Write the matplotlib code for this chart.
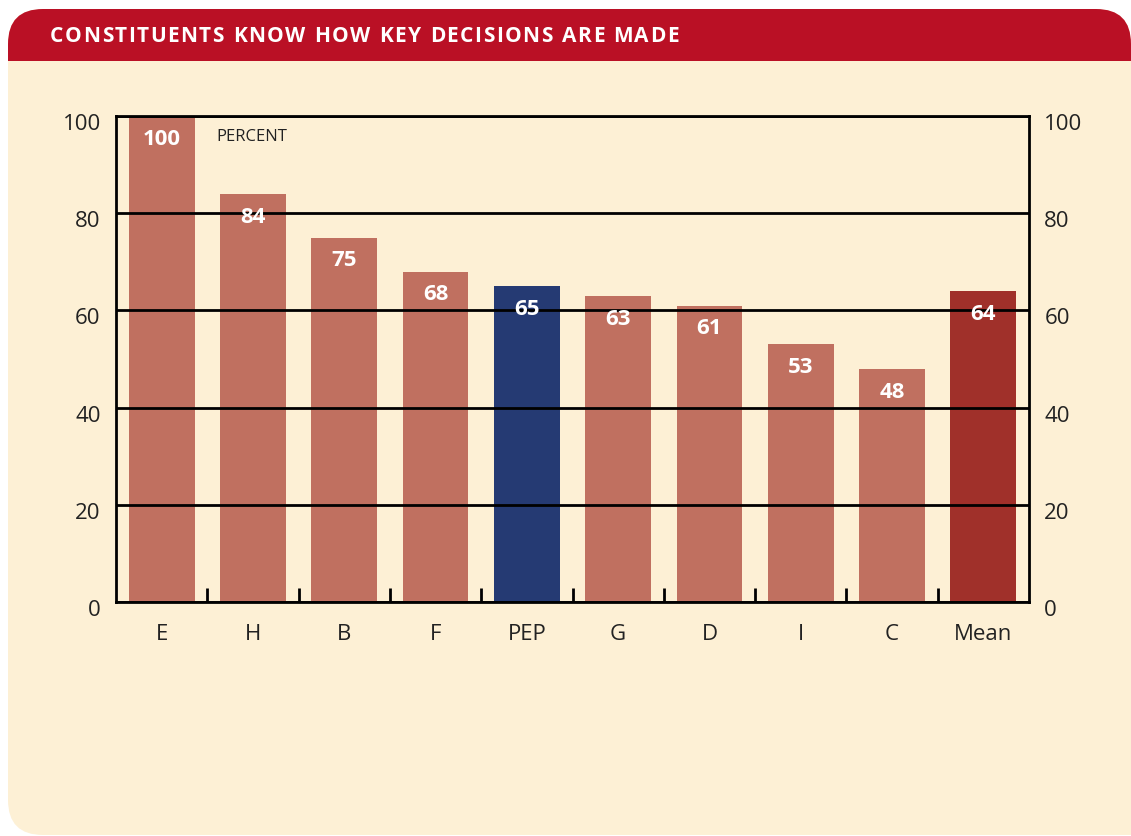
import matplotlib.pyplot as plt
from matplotlib.patches import FancyBboxPatch, Rectangle
import matplotlib.transforms as mtransforms
import numpy as np

categories = ['E', 'H', 'B', 'F', 'PEP', 'G', 'D', 'I', 'C', 'Mean']
values = [100, 84, 75, 68, 65, 63, 61, 53, 48, 64]
title = 'CONSTITUENTS KNOW HOW KEY DECISIONS ARE MADE'

plt.rcParams['font.family'] = ['Open Sans', 'DejaVu Sans']

cream = '#FDF0D5'
red = '#BA1025'
bar_col = '#C07060'
pep_col = '#253A73'
mean_col = '#A0302A'
colors = [pep_col if c == 'PEP' else mean_col if c == 'Mean' else bar_col for c in categories]

fig = plt.figure(figsize=(11.31, 8.36), dpi=100)
fig.patch.set_facecolor('white')

# background panel in pixel coords
bg = fig.add_axes([0, 0, 1, 1])
bg.set_xlim(0, 1131)
bg.set_ylim(836, 0)
bg.axis('off')
bg.add_patch(FancyBboxPatch((8 + 35, 9 + 35), 1131 - 8 - 70, 835 - 9 - 70,
                            boxstyle='round,pad=35', fc=cream, ec='none'))
bg.add_patch(Rectangle((900, 600), 240, 235, fc=cream, ec='none'))
bg.add_patch(FancyBboxPatch((8 + 35, 9 + 35), 1131 - 8 - 70, 100 - 9 - 70,
                            boxstyle='round,pad=35', fc=red, ec='none'))
bg.add_patch(Rectangle((8, 61), 1131 - 8, 120, fc=cream, ec='none'))

# header title with letter spacing
renderer = fig.canvas.get_renderer()
xpos = 50
for ch in title:
    t = bg.text(xpos, 36, ch, color='white', fontsize=15, fontweight='bold',
                va='center', ha='left')
    if ch == ' ':
        w = 6
    else:
        w = t.get_window_extent(renderer).width
    xpos += w + 1.5

# main chart
ax = fig.add_axes([116 / 1131, 1 - 602 / 836, (1029 - 116) / 1131, (602 - 116) / 836])
ax.set_facecolor('none')
x = np.arange(len(categories))
ax.bar(x, values, width=0.72, color=colors, zorder=1)
for xi, v in zip(x, values):
    ax.text(xi, v - 4.8, str(v), color='white', fontsize=16, fontweight='bold',
            ha='center', va='center', zorder=3)

ax.set_xlim(-0.5, len(categories) - 0.5)
ax.set_ylim(0, 100)
ax.set_yticks([0, 20, 40, 60, 80, 100])
ax.yaxis.grid(True, color='black', linewidth=2, zorder=2)
ax.set_axisbelow(False)
ax.set_xticks(x)
ax.set_xticklabels(categories, fontsize=16, color='#222222')
ax.tick_params(axis='x', which='major', length=0, pad=16)
ax.set_xticks(np.arange(0.5, len(categories) - 1, 1), minor=True)
ax.tick_params(axis='x', which='minor', direction='in', length=10, width=2, color='black')
ax.tick_params(axis='y', length=0, labelsize=16, labelcolor='#222222', pad=11,
               labelleft=True, labelright=True)
shift = mtransforms.ScaledTranslation(0, -6 / 100, fig.dpi_scale_trans)
for tick in ax.yaxis.get_major_ticks():
    tick.label1.set_transform(tick.label1.get_transform() + shift)
    tick.label2.set_transform(tick.label2.get_transform() + shift)
for s in ax.spines.values():
    s.set_linewidth(2)
    s.set_color('black')
    s.set_zorder(4)

ax.text(0.6, 95.6, 'PERCENT', fontsize=12, color='#222222', ha='left', va='center')

fig.savefig('out.png', dpi=100, facecolor='white')
